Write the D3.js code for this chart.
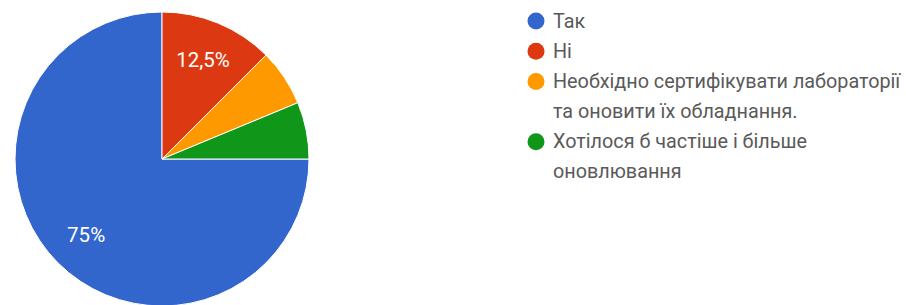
<!DOCTYPE html>
<html>
<head>
<meta charset="utf-8">
<script src="https://cdn.jsdelivr.net/npm/d3@7"></script>
<style>
  body { margin: 0; background: #fff; }
  text { font-family: Roboto, Arial, sans-serif; }
</style>
</head>
<body>
<div class="container"></div>
<script>
// answers to the survey question, in legend order
const answers = ['Так', 'Ні', 'Необхідно сертифікувати лабораторії та оновити їх обладнання.', 'Хотілося б частіше і більше оновлювання'];
const shares = [75, 12.5, 6.25, 6.25];
const sliceLabels = ['75%', '12,5%', '', ''];
// legend text as it wraps in the picture
const legendLines = [
    ['Так'],
    ['Ні'],
    ['Необхідно сертифікувати лабораторії', 'та оновити їх обладнання.'],
    ['Хотілося б частіше і більше', 'оновлювання'],
];
const colors = ['#3366cc', '#dc3912', '#ff9900', '#109618'];

const width = 906;
const height = 305;
const cx = 162;
const cy = 159;
const radius = 147;

const svg = d3.select('.container')
    .append('svg')
    .attr('width', width)
    .attr('height', height);

const data = answers.map((name, i) => ({ name, value: shares[i], label: sliceLabels[i], color: colors[i] }));

// first slice starts at 3 o'clock, the rest follow clockwise up to 12
const pie = d3.pie()
    .sort(null)
    .value(d => d.value)
    .startAngle(Math.PI / 2)
    .endAngle(Math.PI / 2 + 2 * Math.PI);

const arc = d3.arc().innerRadius(0).outerRadius(radius);
const labelArc = d3.arc().innerRadius(radius * 0.73).outerRadius(radius * 0.73);

const g = svg.append('g').attr('transform', `translate(${cx},${cy})`);

g.selectAll('.slice')
    .data(pie(data))
    .enter()
    .append('path')
    .attr('class', 'slice')
    .attr('d', arc)
    .attr('fill', d => d.data.color)
    .attr('stroke', '#fff')
    .attr('stroke-width', 1);

g.selectAll('.slice-label')
    .data(pie(data).filter(d => d.data.label))
    .enter()
    .append('text')
    .attr('class', 'slice-label')
    .attr('transform', d => `translate(${labelArc.centroid(d)})`)
    .attr('text-anchor', 'middle')
    .attr('dominant-baseline', 'central')
    .attr('fill', '#fff')
    .attr('font-size', 20.5)
    .text(d => d.data.label);

// legend
const lineStep = 30.2;
const legend = svg.append('g').attr('transform', 'translate(536, 21)');

let row = 0;
legendLines.forEach((lines, i) => {
    const item = legend.append('g').attr('transform', `translate(0, ${row * lineStep})`);
    item.append('circle')
        .attr('r', 8.5)
        .attr('fill', colors[i]);
    item.selectAll('text')
        .data(lines)
        .enter()
        .append('text')
        .attr('x', 17)
        .attr('y', (d, j) => j * lineStep)
        .attr('dominant-baseline', 'central')
        .attr('fill', '#5a5a5a')
        .attr('font-size', 19.8)
        .text(d => d);
    row += lines.length;
});
</script>
</body>
</html>
